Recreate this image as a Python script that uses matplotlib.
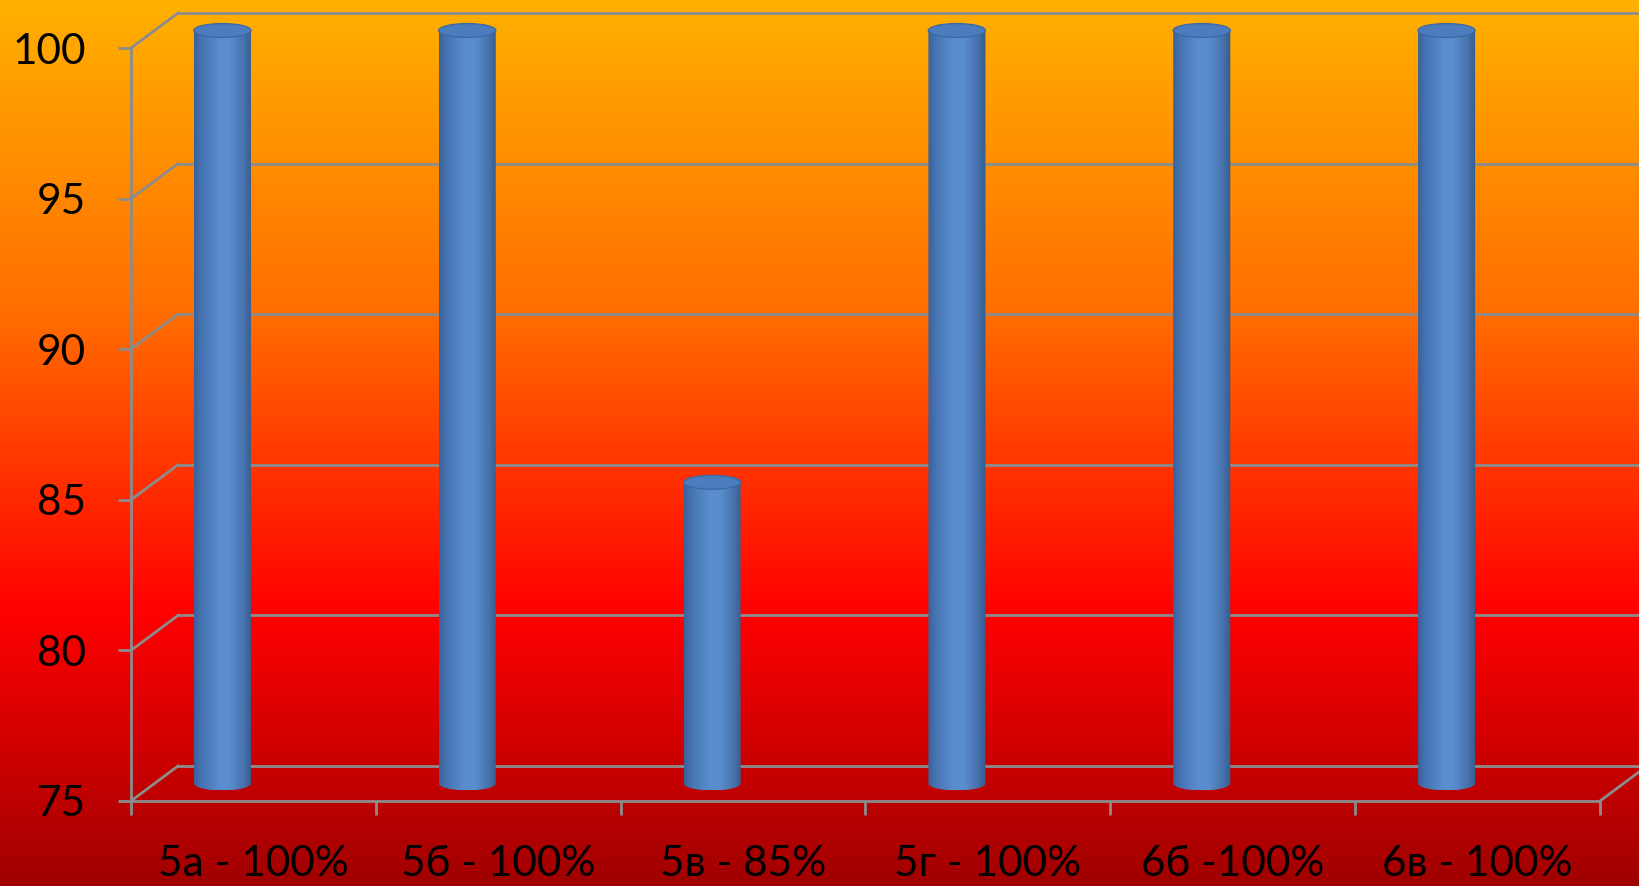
import numpy as np
import matplotlib
matplotlib.use("Agg")
import matplotlib.pyplot as plt
from matplotlib.colors import LinearSegmentedColormap
from matplotlib.patches import Ellipse, PathPatch
from matplotlib.path import Path
from matplotlib.lines import Line2D
from matplotlib.transforms import ScaledTranslation, IdentityTransform

# ---------------- data ----------------
categories = ["5а - 100%", "5б - 100%", "5в - 85%", "5г - 100%", "6б -100%", "6в - 100%"]
values = [100, 100, 85, 100, 100, 100]
y_ticks = [75, 80, 85, 90, 95, 100]
y_min, y_max = 75, 100

# ---------------- style ----------------
W, H, DPI = 1640, 886, 100
FONT = ["Lato", "Open Sans", "DejaVu Sans"]
GRID = "#8C8C8C"
LW = 2.0
DEPTH_DX, DEPTH_DY = 47, 35          # back-wall offset in px
CYL_DX, CYL_DY = -31, 17.5           # cylinder placement offset in px
BAR_W = 0.233                        # cylinder width in category units
CAP_H = 0.46                         # cap ellipse height in value units

fig = plt.figure(figsize=(W / DPI, H / DPI), dpi=DPI)

# background gradient
bg = fig.add_axes([0, 0, 1, 1], zorder=-10)
bg_cmap = LinearSegmentedColormap.from_list(
    "bg", [(0.0, "#FFB000"), (0.35, "#FF6E00"), (0.69, "#FF0000"), (1.0, "#A00000")])
bg.imshow(np.linspace(0, 1, 600).reshape(-1, 1), aspect="auto", cmap=bg_cmap,
          extent=[0, 1, 0, 1])
bg.set_axis_off()

# main (front plane) axes
ax = fig.add_axes([131 / W, (H - 801) / H, (1600 - 131) / W, (801 - 48) / H])
ax.patch.set_alpha(0)
n = len(categories)
ax.set_xlim(0, n)
ax.set_ylim(y_min, y_max)
for s in ["top", "right"]:
    ax.spines[s].set_visible(False)
for s in ["left", "bottom"]:
    ax.spines[s].set_color(GRID)
    ax.spines[s].set_linewidth(LW)

ax.set_yticks(y_ticks)
ax.set_yticklabels([str(t) for t in y_ticks], fontfamily=FONT, fontsize=30.5)
ax.tick_params(axis="y", direction="out", length=9.5, width=LW, color=GRID, pad=23)

ax.set_xticks(range(n + 1))
ax.set_xticklabels([])
ax.tick_params(axis="x", which="major", direction="out", length=10, width=LW, color=GRID)
ax.set_xticks([i + 0.5 for i in range(n)], minor=True)
ax.set_xticklabels(categories, minor=True, fontfamily=FONT, fontsize=30.5)
ax.tick_params(axis="x", which="minor", length=0, pad=32)

# back wall gridlines
back = ax.transData + ScaledTranslation(DEPTH_DX / DPI, DEPTH_DY / DPI, fig.dpi_scale_trans)
for t in y_ticks:
    ax.plot([0, n], [t, t], color=GRID, lw=LW, transform=back, clip_on=False, zorder=1)
    p = ax.transData.transform((0, t))
    fig.add_artist(Line2D([p[0], p[0] + DEPTH_DX], [p[1], p[1] + DEPTH_DY],
                          color=GRID, lw=LW, transform=IdentityTransform()))
p = ax.transData.transform((n, y_min))
fig.add_artist(Line2D([p[0], p[0] + DEPTH_DX], [p[1], p[1] + DEPTH_DY],
                      color=GRID, lw=LW, transform=IdentityTransform()))

# cylinders
tcyl = ax.transData + ScaledTranslation(CYL_DX / DPI, CYL_DY / DPI, fig.dpi_scale_trans)
body_cmap = LinearSegmentedColormap.from_list(
    "body", [(0.0, "#3A6199"), (0.12, "#4673B0"), (0.45, "#5A8ED0"),
             (0.62, "#5A8DCD"), (0.85, "#4874AF"), (1.0, "#365C8C")])
grad_row = np.linspace(0, 1, 200).reshape(1, -1)
theta = np.linspace(np.pi, 2 * np.pi, 80)
for i, v in enumerate(values):
    cx = i + 0.5
    x0, x1 = cx - BAR_W / 2, cx + BAR_W / 2
    ex = cx + BAR_W / 2 * np.cos(theta)
    ey = y_min + CAP_H / 2 * np.sin(theta)
    verts = [(x0, v)] + list(zip(ex, ey)) + [(x1, v), (x0, v)]
    codes = [Path.MOVETO] + [Path.LINETO] * (len(verts) - 2) + [Path.CLOSEPOLY]
    clip = PathPatch(Path(verts, codes), transform=tcyl, fc="none", ec="none")
    im = ax.imshow(grad_row, cmap=body_cmap, aspect="auto",
                   extent=[x0, x1, y_min - CAP_H / 2, v], zorder=3, interpolation="bilinear")
    im.set_transform(tcyl)
    im.set_clip_box(fig.bbox)
    im.set_clip_path(clip)
    cap = Ellipse((cx, v), BAR_W, CAP_H, transform=tcyl, fc="#4B7CBE",
                  ec="#3D69A3", lw=1.0, zorder=4, clip_on=False)
    ax.add_patch(cap)

ax.set_xlim(0, n)
ax.set_ylim(y_min, y_max)

fig.savefig("out.png", dpi=DPI)
